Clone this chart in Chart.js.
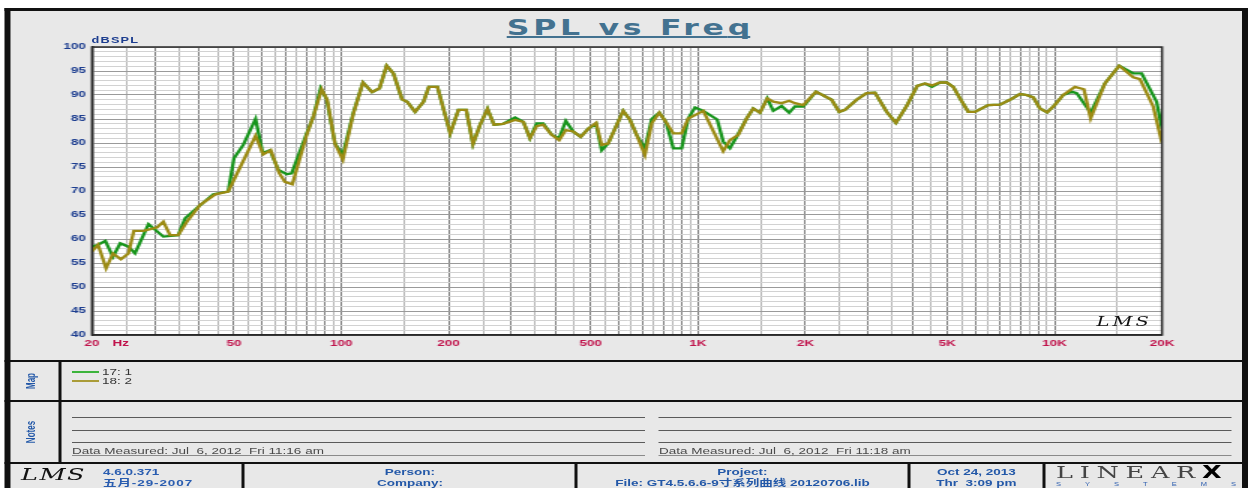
<!DOCTYPE html>
<html>
<head>
<meta charset="utf-8">
<title>SPL vs Freq</title>
<script src="https://cdn.jsdelivr.net/npm/chart.js@4.4.1/dist/chart.umd.min.js"></script>
<style>
  html, body { margin: 0; padding: 0; background: #fff; overflow: hidden; }
  body { width: 1248px; height: 488px; position: relative; }
  /* the whole sheet is laid out 832 wide and stretched 1.5x like the original print */
  #page { position: absolute; left: 0; top: 0; width: 832px; height: 488px;
          transform: scaleX(1.5); transform-origin: 0 0;
          font-family: 'Liberation Sans', Arial, sans-serif; }
  #page div, #page canvas { position: absolute; }
  .bg { left: 6.5px; top: 11px; width: 821.3px; height: 477px; background: #e8e8e8; }
  .blk { background: #111; }
  .blue { color: #2358a8; font-weight: bold; font-size: 9px; line-height: 10px; white-space: pre; }
  .cell { text-align: center; }
  .note { height: 1px; background: #5a5a5a; }
  .noteBase { height: 1.2px; background: #8a8a8a; }
  .measured { font-size: 9px; line-height: 10px; color: #4a4a4a; white-space: pre; }
  .side { width: 40px; height: 10px; line-height: 10px; text-align: center; font-size: 8px;
          font-weight: bold; color: #2358a8; transform: rotate(-90deg); }
  .leg { font-size: 9px; line-height: 10px; color: #333; white-space: pre; }
  .title { left: 318px; top: 17px; width: 202px; text-align: center; font-family: 'DejaVu Sans', sans-serif;
           font-size: 21px; line-height: 22px; font-weight: bold; color: #437290; }
  .title span { letter-spacing: 2.5px; text-decoration: underline; text-decoration-thickness: 2px;
                text-underline-offset: 1px; text-decoration-skip-ink: none; }
  .title span b { letter-spacing: 0; }
</style>
</head>
<body>
<div id="page">
  <div class="bg"></div>

  <div class="title"><span>SPL vs Fre<b>q</b></span></div>

  <canvas id="spl" width="832" height="349" style="left:0;top:11px;width:832px;height:349px;"></canvas>

  <div style="left:61px;top:36px;font-size:8.5px;line-height:8px;font-weight:bold;letter-spacing:0.8px;color:#1c3d8f;">dBSPL</div>
  <div style="left:75px;top:338px;font-size:9px;line-height:10px;font-weight:bold;color:#c0144c;">Hz</div>
  <div style="left:731px;top:314px;font-family:'DejaVu Serif',serif;font-style:italic;font-size:13px;line-height:16px;letter-spacing:2px;color:#111;">LMS</div>

  <!-- frame and panel rules -->
  <div class="blk" style="left:3px;top:8px;width:829px;height:3px"></div>
  <div class="blk" style="left:3px;top:8px;width:3.5px;height:480px"></div>
  <div class="blk" style="left:827.8px;top:8px;width:4.2px;height:480px"></div>
  <div class="blk" style="left:3px;top:359.5px;width:829px;height:2.5px"></div>
  <div class="blk" style="left:3px;top:400px;width:829px;height:2px"></div>
  <div class="blk" style="left:3px;top:462px;width:829px;height:2px"></div>
  <div class="blk" style="left:38.7px;top:361px;width:2px;height:102px"></div>
  <div class="blk" style="left:161.3px;top:463px;width:2px;height:25px"></div>
  <div class="blk" style="left:383.3px;top:463px;width:2px;height:25px"></div>
  <div class="blk" style="left:604.7px;top:463px;width:2px;height:25px"></div>
  <div class="blk" style="left:695.3px;top:463px;width:2px;height:25px"></div>

  <!-- map panel -->
  <div class="side" style="left:0.7px;top:375.5px;">Map</div>
  <div style="left:48px;top:371px;width:18px;height:1.5px;background:#3cb43c;"></div>
  <div class="leg" style="left:68px;top:366.5px;">17: 1</div>
  <div style="left:48px;top:380px;width:18px;height:1.5px;background:#aa9c38;"></div>
  <div class="leg" style="left:68px;top:375.5px;">18: 2</div>

  <!-- notes panel -->
  <div class="side" style="left:0.7px;top:427px;">Notes</div>
  <div class="note" style="left:48px;top:416.5px;width:382px;"></div>
  <div class="note" style="left:48px;top:429.5px;width:382px;"></div>
  <div class="note" style="left:48px;top:442px;width:382px;"></div>
  <div class="noteBase" style="left:48px;top:455px;width:382px;"></div>
  <div class="measured" style="left:48px;top:446.4px;">Data Measured: Jul  6, 2012  Fri 11:16 am</div>
  <div class="note" style="left:439.3px;top:416.5px;width:381.4px;"></div>
  <div class="note" style="left:439.3px;top:429.5px;width:381.4px;"></div>
  <div class="note" style="left:439.3px;top:442px;width:381.4px;"></div>
  <div class="noteBase" style="left:439.3px;top:455px;width:381.4px;"></div>
  <div class="measured" style="left:439.3px;top:446.4px;">Data Measured: Jul  6, 2012  Fri 11:18 am</div>

  <!-- footer -->
  <div style="left:14px;top:463px;font-family:'DejaVu Serif',serif;font-style:italic;font-size:17px;line-height:22px;letter-spacing:1px;color:#111;">LMS</div>
  <div class="blue" style="left:68.7px;top:467px;color:#2a5db0;">4.6.0.371</div>
  <div class="blue" style="left:68.7px;top:478px;color:#2a5db0;letter-spacing:0.6px;font-family:'Liberation Sans','Noto Sans CJK SC',sans-serif;">五月-29-2007</div>
  <div class="blue cell" style="left:163.3px;top:467px;width:220px;">Person:</div>
  <div class="blue cell" style="left:163.3px;top:478px;width:220px;">Company:</div>
  <div class="blue cell" style="left:385.3px;top:467px;width:219.4px;">Project:</div>
  <div class="blue cell" style="left:385.3px;top:478px;width:219.4px;font-family:'Liberation Sans','Noto Sans CJK SC',sans-serif;">File: GT4.5.6.6-9寸系列曲线 20120706.lib</div>
  <div class="blue cell" style="left:606.7px;top:467px;width:88.6px;">Oct 24, 2013</div>
  <div class="blue cell" style="left:606.7px;top:478px;width:88.6px;">Thr  3:09 pm</div>
  <div style="left:704px;top:462px;font-family:'DejaVu Serif',serif;font-size:17px;line-height:20px;letter-spacing:4.5px;color:#444;white-space:pre;">LINEAR<span style="font-family:'DejaVu Sans',sans-serif;font-weight:bold;color:#000;letter-spacing:0;">X</span></div>
  <div style="left:704px;top:481px;width:120px;height:6px;display:flex;justify-content:space-between;font-size:5px;line-height:6px;color:#3060b0;">
    <span>S</span><span>Y</span><span>S</span><span>T</span><span>E</span><span>M</span><span>S</span>
  </div>
</div>

<script>
// 17: 1 (green) — frequency in Hz, level in dB SPL
const freq17 = [20, 20.8, 21.8, 22.9, 24.0, 25.3, 26.4, 28.8, 31.7, 34.9, 36.5, 39.7, 43.8, 48.2, 50.0, 53.1,
  57.5, 60.2, 63.1, 66.6, 70.3, 72.6, 80.0, 83.5, 87.5, 91.0, 96.0, 101, 108, 115, 122, 128, 134, 140, 148,
  153, 161, 170, 176, 186, 202, 213, 224, 234, 245, 257, 268, 284, 307, 324, 338, 353, 368, 389, 408, 426,
  447, 469, 493, 518, 537, 560, 617, 645, 673, 710, 742, 779, 813, 853, 900, 939, 981, 1035, 1132, 1177,
  1229, 1284, 1369, 1429, 1492, 1564, 1626, 1716, 1802, 1870, 1973, 2142, 2370, 2489, 2583, 2785, 2971,
  3134, 3381, 3589, 3846, 4119, 4329, 4529, 4769, 4980, 5197, 5426, 5725, 5978, 6513, 7024, 7493, 7993,
  8346, 8709, 9094, 9533, 10000, 10569, 11158, 11526, 12614, 13834, 15172, 16611, 17536, 19312, 20000];
const spl17 = [58.4, 58.8, 59.6, 56.3, 59.1, 58.4, 57.0, 63.1, 60.5, 60.8, 64.3, 66.7, 69.3, 69.9, 76.8, 79.6,
  85.0, 77.9, 78.5, 74.4, 73.5, 73.7, 82.0, 85.5, 91.4, 89.1, 79.9, 77.5, 86.2, 92.6, 90.6, 91.4, 96.1, 94.5, 89.1,
  88.6, 86.5, 88.6, 91.7, 91.7, 82.0, 86.9, 86.9, 79.8, 83.8, 87.1, 83.8, 84.0, 85.3, 84.4, 81.0, 84.1, 84.1, 81.7, 81.0, 84.6,
  82.4, 81.3, 83.0, 84.0, 78.5, 79.9, 86.7, 84.8, 81.7, 78.8, 85.0, 86.3, 84.4, 78.9, 78.9, 85.1, 87.4, 86.7, 84.9, 80.3,
  78.9, 81.3, 85.1, 87.2, 86.3, 89.3, 86.7, 87.7, 86.3, 87.6, 87.6, 90.7, 89.0, 86.5, 86.9, 89.0, 90.4,
  90.5, 86.5, 84.2, 87.7, 91.9, 92.4, 91.7, 92.6, 92.6, 91.7, 89.3, 86.5, 86.5, 87.9, 88.0, 89.0, 90.2,
  90.0, 89.5, 87.2, 86.4, 87.9, 90.0, 90.7, 90.4, 86.3, 92.4, 96.1, 94.5, 94.5, 88.6, 83.0];

// 18: 2 (olive)
const freq18 = [20, 20.8, 21.9, 22.9, 24.1, 25.3, 26.2, 27.9, 30.4, 31.7, 33.1, 34.9, 36.9, 40.2, 44.3, 48.2,
  57.5, 60.4, 63.4, 67.0, 69.5, 72.9, 80.0, 83.5, 88.1, 91.3, 96.0, 101, 108, 115, 122, 128, 134, 140, 148,
  153, 161, 170, 176, 186, 202, 213, 224, 234, 245, 257, 268, 284, 307, 324, 338, 353, 368, 389, 408, 426,
  447, 469, 493, 518, 537, 560, 617, 645, 673, 710, 742, 779, 813, 853, 900, 939, 981, 1035, 1177, 1229,
  1297, 1369, 1429, 1492, 1564, 1626, 1716, 1802, 1870, 1973, 2142, 2370, 2489, 2583, 2785, 2971, 3134,
  3381, 3589, 3846, 4119, 4329, 4529, 4769, 4980, 5197, 5426, 5725, 5978, 6513, 7024, 7493, 7993, 8346,
  8709, 9094, 9533, 10000, 10569, 11400, 12080, 12614, 13834, 15172, 16611, 17345, 18894, 20000];
const spl18 = [57.4, 58.8, 53.9, 57.0, 55.8, 57.0, 61.7, 61.7, 62.4, 63.6, 60.8, 60.8, 63.6, 67.1, 69.3, 69.9,
  81.5, 77.6, 78.5, 73.7, 71.9, 71.4, 81.7, 85.5, 91.2, 89.0, 79.9, 76.5, 86.0, 92.6, 90.6, 91.4, 96.1, 94.5, 89.1,
  88.6, 86.5, 88.6, 91.7, 91.7, 82.0, 86.9, 86.9, 79.8, 83.8, 87.1, 83.8, 84.0, 84.8, 84.4, 81.0, 83.5, 83.8, 81.7, 80.6, 82.7,
  82.4, 81.3, 83.0, 84.2, 79.6, 79.9, 86.7, 84.8, 81.7, 77.5, 84.1, 86.3, 84.4, 82.0, 82.0, 85.1, 85.8, 86.7, 78.3, 80.6,
  81.7, 85.1, 87.2, 86.3, 89.3, 88.6, 88.3, 88.8, 88.3, 87.9, 90.7, 89.0, 86.5, 86.9, 89.0, 90.4, 90.5,
  86.5, 84.2, 87.7, 91.9, 92.4, 92.0, 92.6, 92.6, 91.7, 89.3, 86.5, 86.5, 87.9, 88.0, 89.0, 90.2, 90.0,
  89.5, 87.2, 86.4, 87.9, 90.0, 91.7, 91.2, 85.1, 92.4, 96.1, 93.7, 93.3, 87.6, 80.0];

// labelled frequencies on the x axis
const xLabelValues = [20, 50, 100, 200, 500, 1000, 2000, 5000, 10000, 20000];
const xLabelText = ['20', '50', '100', '200', '500', '1K', '2K', '5K', '10K', '20K'];
const yMin = 40, yMax = 100;

const pairUp = (xs, ys) => xs.map((x, i) => ({ x: x, y: ys[i] }));

// vertical grid: half steps inside each decade, whole steps drawn darker
const gridFreqs = [];
[10, 100, 1000, 10000].forEach(dec => {
  for (let m = 1; m <= 10; m += 0.5) {
    const f = Math.round(dec * m);
    if (f >= 20 && f <= 20000 && gridFreqs.indexOf(f) < 0) gridFreqs.push(f);
  }
});
const isWholeStep = f => {
  const dec = Math.pow(10, Math.floor(Math.log10(f) + 1e-9));
  return Math.abs(f / dec - Math.round(f / dec)) < 1e-6;
};

// horizontal grid every dB, labelled every 5
const yGrid = [];
for (let v = yMin; v <= yMax; v++) yGrid.push(v);

const plotFrame = {
  id: 'plotFrame',
  beforeDraw(chart) {
    const { ctx, chartArea: a } = chart;
    ctx.save();
    ctx.fillStyle = '#ffffff';
    ctx.fillRect(a.left, a.top, a.right - a.left, a.bottom - a.top);
    ctx.restore();
  },
  afterDraw(chart) {
    const { ctx, chartArea: a } = chart;
    ctx.save();
    ctx.strokeStyle = '#2a2a2a';
    ctx.lineWidth = 1.5;
    ctx.strokeRect(a.left, a.top, a.right - a.left, a.bottom - a.top);
    ctx.restore();
  }
};

const tickFont = { family: 'Liberation Sans', size: 9, weight: 'bold' };

new Chart(document.getElementById('spl'), {
  type: 'line',
  data: {
    datasets: [
      { label: '17: 1', data: pairUp(freq17, spl17), borderColor: '#17951c', borderWidth: 2.3,
        pointRadius: 0, tension: 0, fill: false, order: 2 },
      { label: '18: 2', data: pairUp(freq18, spl18), borderColor: '#9c8b14', borderWidth: 2.3,
        pointRadius: 0, tension: 0, fill: false, order: 1 }
    ]
  },
  options: {
    responsive: false,
    animation: false,
    events: [],
    layout: { padding: { left: 0, top: 36, right: 57.33, bottom: 0 } },
    plugins: { legend: { display: false }, tooltip: { enabled: false }, title: { display: false } },
    scales: {
      x: {
        type: 'logarithmic', min: 20, max: 20000, z: 0,
        afterBuildTicks: s => { s.ticks = gridFreqs.map(v => ({ value: v })); },
        afterFit: s => { s.height = 25; },
        grid: {
          drawTicks: false, lineWidth: 1,
          color: c => (c.tick && isWholeStep(c.tick.value)) ? '#808080' : '#b6b6b6'
        },
        border: { display: true, color: '#2a2a2a', width: 1.5 },
        ticks: {
          autoSkip: false, maxRotation: 0, minRotation: 0, padding: 3,
          color: '#c0144c', font: tickFont,
          callback: v => {
            const i = xLabelValues.indexOf(Math.round(v));
            return i >= 0 ? xLabelText[i] : '';
          }
        }
      },
      y: {
        min: yMin, max: yMax, z: -1,
        afterBuildTicks: s => { s.ticks = yGrid.map(v => ({ value: v })); },
        afterFit: s => { s.width = 61.33; },
        grid: {
          drawTicks: false, lineWidth: 1,
          color: c => (c.tick && c.tick.value % 5 === 0) ? '#9a9a9a' : '#d2d2d2'
        },
        border: { display: true, color: '#2a2a2a', width: 1.5 },
        ticks: {
          autoSkip: false, padding: 4, color: '#1c3d8f', font: tickFont,
          callback: v => (v % 5 === 0 ? String(v) : '')
        }
      }
    }
  },
  plugins: [plotFrame]
});
</script>
</body>
</html>
